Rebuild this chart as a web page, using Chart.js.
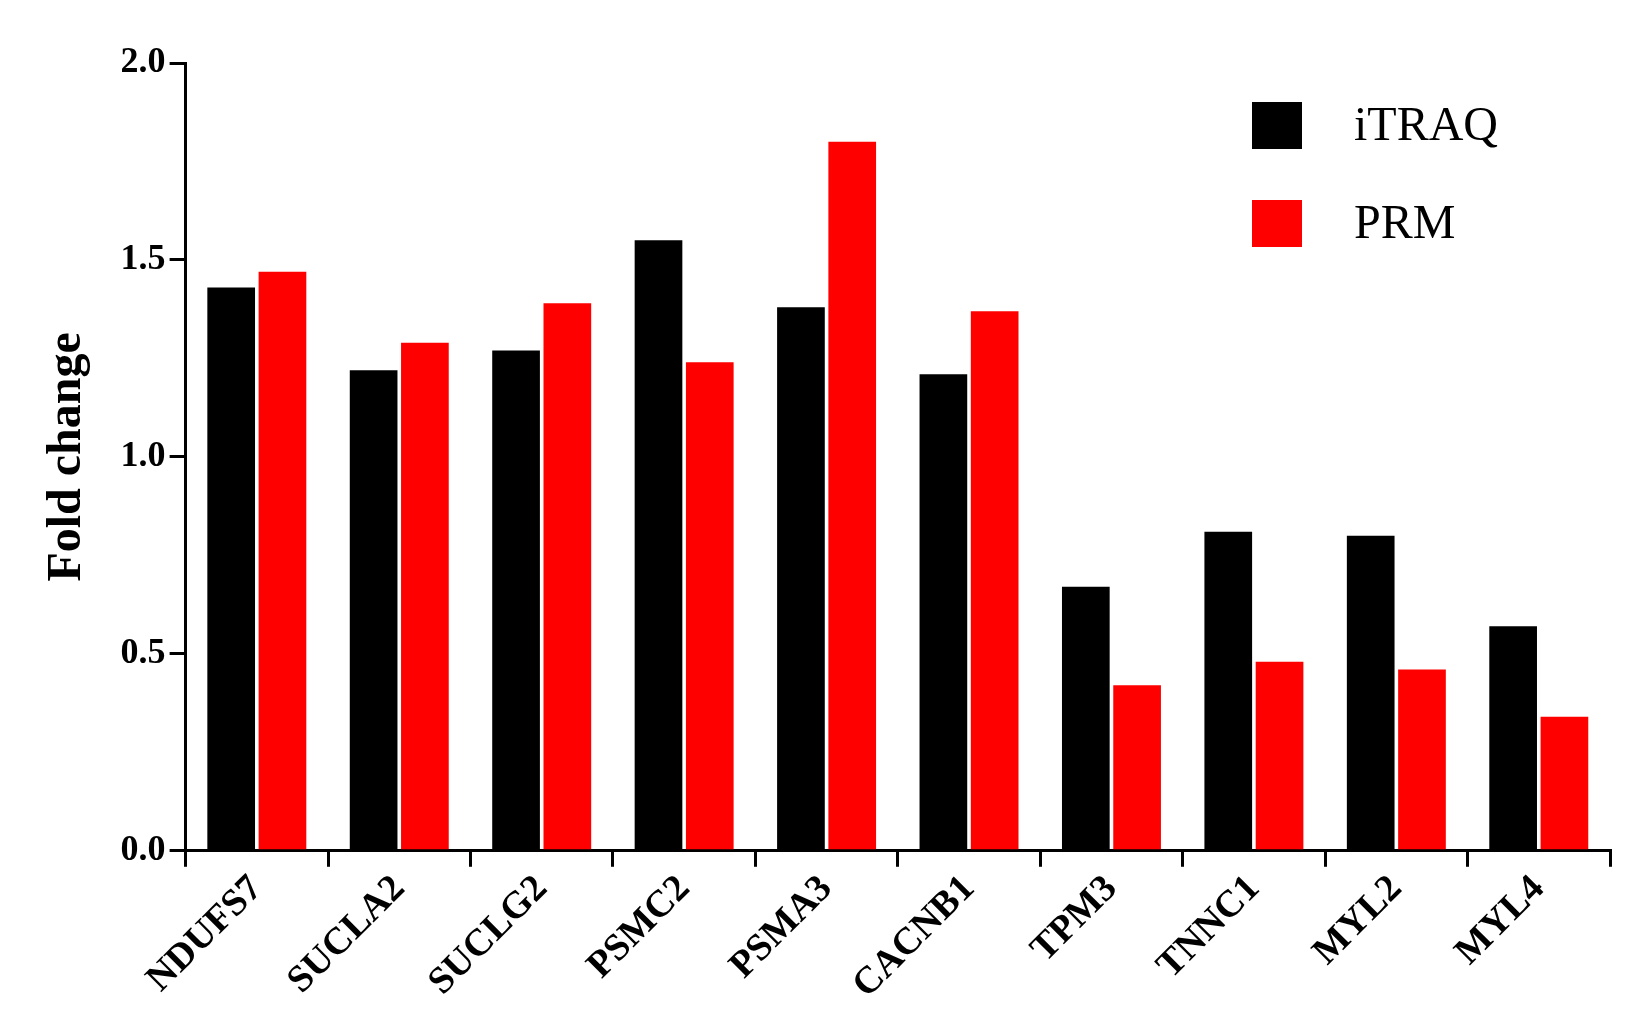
<!DOCTYPE html>
<html><head><meta charset="utf-8">
<script src="https://cdn.jsdelivr.net/npm/chart.js@4/dist/chart.umd.min.js"></script>
<style>html,body{margin:0;background:#fff}#wrap{width:1645px;height:1018px}</style>
</head><body><div id="wrap"><canvas id="c"></canvas></div>
<script>
const genes = ['NDUFS7','SUCLA2','SUCLG2','PSMC2','PSMA3','CACNB1','TPM3','TNNC1','MYL2','MYL4'];
const itraq = [1.43,1.22,1.27,1.55,1.38,1.21,0.67,0.81,0.80,0.57];
const prm   = [1.47,1.29,1.39,1.24,1.80,1.37,0.42,0.48,0.46,0.34];
const yTicks = [0,0.5,1.0,1.5,2.0];

// legend drawn by hand, box + serif text like the original
const legendBoxes = {
    id: 'legendBoxes',
    afterDraw(chart) {
        const ctx = chart.ctx;
        ctx.save();
        chart.data.datasets.forEach((ds, i) => {
            const y = 102 + i * 98;
            ctx.fillStyle = ds.backgroundColor;
            ctx.fillRect(1252, y, 50, 47);
            ctx.fillStyle = '#000';
            ctx.font = '48px "Liberation Serif"';
            ctx.textBaseline = 'middle';
            ctx.fillText(ds.label, 1354, y + 25);
        });
        ctx.restore();
    }
};

new Chart(document.getElementById('c'), {
    type: 'bar',
    data: {
        labels: genes,
        datasets: [
            { label: 'iTRAQ', data: itraq, backgroundColor: '#000000' },
            { label: 'PRM', data: prm, backgroundColor: '#ff0000' }
        ]
    },
    options: {
        responsive: true,
        maintainAspectRatio: false,
        animation: false,
        layout: { padding: { top: 63, right: 35, left: 35, bottom: 10 } },
        datasets: { bar: { categoryPercentage: 0.72, barPercentage: 0.93 } },
        plugins: { legend: { display: false }, tooltip: { enabled: false } },
        scales: {
            x: {
                grid: { display: true, drawOnChartArea: false, drawTicks: true, tickLength: 16, lineWidth: 3, color: '#000' },
                border: { color: '#000', width: 3 },
                ticks: { color: '#000', minRotation: 45, maxRotation: 45, padding: 0,
                    font: { family: '"Liberation Serif"', size: 38, weight: 'bold' } }
            },
            y: {
                min: 0, max: 2.0,
                afterBuildTicks: axis => { axis.ticks = yTicks.map(v => ({ value: v })); },
                grid: { drawOnChartArea: false, drawTicks: true, tickLength: 16, lineWidth: 3, color: '#000' },
                border: { color: '#000', width: 3 },
                ticks: { color: '#000', padding: 4, callback: v => v.toFixed(1),
                    font: { family: '"Liberation Serif"', size: 36, weight: 'bold' } },
                title: { display: true, text: 'Fold change', color: '#000', padding: { bottom: 20 },
                    font: { family: '"Liberation Serif"', size: 48, weight: 'bold' } }
            }
        }
    },
    plugins: [legendBoxes]
});
</script></body></html>
